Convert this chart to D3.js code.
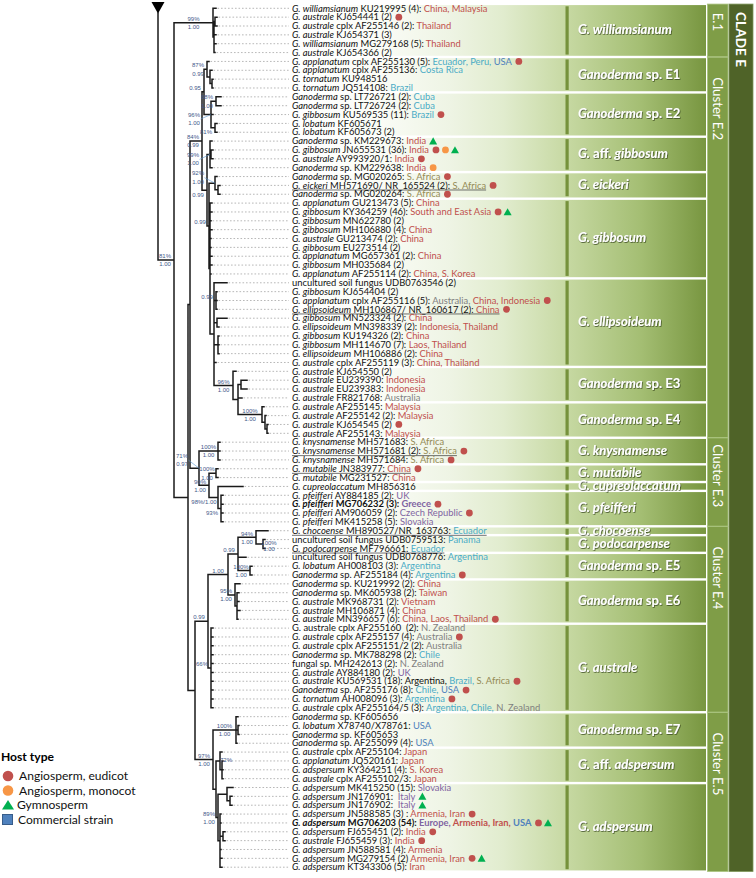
<!DOCTYPE html>
<html><head><meta charset="utf-8">
<script src="https://cdn.jsdelivr.net/npm/d3@7"></script>
<style>body{margin:0;background:#fff}svg{display:block}text{white-space:pre}</style>
</head><body>
<svg id="c" width="756" height="878"></svg>
<script>
// ---------- DATA ----------
// tips: [label markup (*italic*), origin, host codes, parent node, branch depth, flag]
// host codes: e = angiosperm eudicot, m = angiosperm monocot, g = gymnosperm, c = commercial
// flag: u = type sequence (underlined), b = sequence of this study (bold)
const tips = [
 ["*G. williamsianum* KU219995 (4):","China, Malaysia","","E1c",58],
 ["*G. australe* KJ654441 (2)","","e","s2",59],
 ["*G. australe* cplx AF255146 (2):","Thailand","","s2",59],
 ["*G. australe* KJ654371 (3)","","","s",58],
 ["*G. williamsianum* MG279168 (5):","Thailand","","s",58],
 ["*G. australe* KJ654366 (2)","","","s",57],
 ["*G. applanatum* cplx AF255130 (5):","Ecuador, Peru, USA","e","NE1",51],
 ["*G. applanatum* cplx AF255136:","Costa Rica","","S1",54],
 ["*G. tornatum* KU948516","","","S2",55],
 ["*G. tornatum* JQ514108:","Brazil","","S2",55],
 ["*Ganoderma* sp. LT726721 (2):","Cuba","","Ncuba",63],
 ["*Ganoderma* sp. LT726724 (2):","Cuba","","Ncuba",63],
 ["*G. gibbosum* KU569535 (11):","Brazil","e","NsE2",55],
 ["*G. lobatum* KF605671","","","Nlob",59],
 ["*G. lobatum* KF605673 (2)","","","Nlob",59],
 ["*Ganoderma* sp. KM229673:","India","g","Naff",54],
 ["*G. gibbosum* JN655531 (36):","India","emg","naff2",55],
 ["*G. australe* AY993920/1:","India","e","naff2",55],
 ["*Ganoderma* sp. KM229638:","India","m","Naff",54],
 ["*Ganoderma* sp. MG020265:","S. Africa","e","Neick",59],
 ["*G. eickeri* MH571690/ NR_165524 (2):","S. Africa","e","eick2",62,"u"],
 ["*Ganoderma* sp. MG020264:","S. Africa","e","eick2",62],
 ["*G. applanatum* GU213473 (5):","China","","Nd",54],
 ["*G. gibbosum* KY364259 (46):","South and East Asia","eg","Nd",54],
 ["*G. gibbosum* MN622780 (2)","","","Nd",53],
 ["*G. gibbosum* MH106880 (4):","China","","Nd",54],
 ["*G. australe* GU213474 (2):","China","","Nd",53],
 ["*G. gibbosum* EU273514 (2)","","","Nd",53],
 ["*G. applanatum* MG657361 (2):","China","","Nd",54],
 ["*G. gibbosum* MH035684 (2)","","","Nd",54],
 ["*G. applanatum* AF255114 (2):","China, S. Korea","","Nd",53],
 ["uncultured soil fungus UDB0763546 (2)","","","Nell",69],
 ["*G. gibbosum* KJ654404 (2)","","","Nell2",59],
 ["*G. applanatum* cplx AF255116 (5):","Australia, China, Indonesia","e","Nell2",59],
 ["*G. ellipsoideum* MH106867/ NR_160617 (2):","China","e","Nell2",59,"u"],
 ["*G. gibbosum* MN523324 (2):","China","","Nell3",69],
 ["*G. ellipsoideum* MN398339 (2):","Indonesia, Thailand","","Nell3",61],
 ["*G. gibbosum* KU194326 (2):","China","","Nell4",61],
 ["*G. gibbosum* MH114670 (7):","Laos, Thailand","","Nell4",61],
 ["*G. ellipsoideum* MH106886 (2):","China","","Nell4",61],
 ["*G. australe* cplx AF255119 (3):","China, Thailand","","Nell",58],
 ["*G. australe* KJ654550 (2)","","","N96",78],
 ["*G. australe* EU239390:","Indonesia","","Npair3",89],
 ["*G. australe* EU239383:","Indonesia","","Npair3",89],
 ["*G. australe* FR821768:","Australia","","Ne3",84],
 ["*G. australe* AF255145:","Malaysia","","Ne4",106],
 ["*G. australe* AF255142 (2):","Malaysia","","Ne4b",108],
 ["*G. australe* KJ654545 (2)","","e","Ne4c",110],
 ["*G. australe* AF255143:","Malaysia","","Ne4c",110],
 ["*G. knysnamense* MH571683:","S. Africa","","K",62],
 ["*G. knysnamense* MH571681 (2):","S. Africa","e","K",62,"u"],
 ["*G. knysnamense* MH571684:","S. Africa","e","K",62],
 ["*G. mutabile* JN383977:","China","e","M",60,"u"],
 ["*G. mutabile* MG231527:","China","","M",60],
 ["*G. cupreolaccatum* MH856316","","","CP",85],
 ["*G. pfeifferi* AY884185 (2):","UK","","P",65],
 ["*G. pfeifferi* MG706232 (3):","Greece","e","P",65,"b"],
 ["*G. pfeifferi* AM906059 (2):","Czech Republic","e","P",65],
 ["*G. pfeifferi* MK415258 (5):","Slovakia","","P",65],
 ["*G. chocoense* MH890527/NR_163763:","Ecuador","","Ch",110,"u"],
 ["uncultured soil fungus UDB0759513:","Panama","","Npod",107],
 ["*G. podocarpense* MF796661:","Ecuador","","Npod",107,"u"],
 ["uncultured soil fungus UDB0768776:","Argentina","","X",88],
 ["*G. lobatum* AH008103 (3):","Argentina","","NE5c",94],
 ["*Ganoderma* sp. AF255184 (4):","Argentina","e","NE5c",94],
 ["*Ganoderma* sp. KU219992 (2):","China","","E6",82],
 ["*Ganoderma* sp. MK605938 (2):","Taiwan","","Ne6b",81],
 ["*G. australe* MK968731 (2):","Vietnam","","Ne6b",81],
 ["*G. australe* MH106871 (4):","China","","Ne6b",82],
 ["*G. australe* MN396657 (6):","China, Laos, Thailand","e","Ne6b",80],
 ["G. australe cplx AF255160  (2):","N. Zealand","","Naus",55],
 ["*G. australe* cplx AF255157 (4):","Australia","e","Naus",55],
 ["*G. australe* cplx AF255151/2 (2):","Australia","","Naus",55],
 ["*Ganoderma* sp. MK788298 (2):","Chile","","Naus",55],
 ["fungal sp. MH242613 (2):","N. Zealand","","Naus",55],
 ["*G. australe* AY884180 (2):","UK","","Naus",55],
 ["*G. australe* KU569531 (18):","!Argentina, Brazil, S. Africa","e","Naus",55],
 ["*Ganoderma* sp. AF255176 (8):","Chile, USA","e","Naus",55],
 ["*G. tornatum* AH008096 (3):","Argentina","e","Naus",55],
 ["*G. australe* cplx AF255164/5 (3):","Argentina, Chile, N. Zealand","","Naus",55],
 ["*Ganoderma* sp. KF605656","","","E7",80],
 ["*G. lobatum* X78740/X78761:","USA","","Ne7b",81],
 ["*Ganoderma* sp. KF605653","","","Ne7b",81],
 ["*Ganoderma* sp. AF255099 (4):","USA","","E7",79],
 ["*G. australe* cplx AF255104:","Japan","","Naffad",64],
 ["*G. applanatum* JQ520161:","Japan","","Naff2b",65],
 ["*G. adspersum* KY364251 (4):","S. Korea","","Naff2b",65],
 ["*G. australe* cplx AF255102/3:","Japan","","Naff2b",65],
 ["*G. adspersum* MK415250 (15):","Slovakia","","Nads1",75],
 ["*G. adspersum* JN176901: ","Italy","g","Npr",74],
 ["*G. adspersum* JN176902: ","Italy","g","Npr",74],
 ["*G. adspersum* JN588585 (3) :","Armenia, Iran","e","Nads3",63],
 ["*G. adspersum* MG706203 (54):","Europe, Armenia, Iran, USA","eg","Nads3",63,"b"],
 ["*G. adspersum* FJ655451 (2):","India","e","Nads2",67],
 ["*G. australe* FJ655459 (3):","India","e","Nads2",67],
 ["*G. adspersum* JN588581 (4):","Armenia","","Nads3",63],
 ["*G. adspersum* MG279154 (2)","Armenia, Iran","eg","Nads3",64],
 ["*G. adspersum* KT343306 (5):","Iran","","Nads3",64]
];

// internal nodes: [id, parent, depth, bootstrap, posterior]
const nodes = [
 ["root",null,0],
 ["A","root",16,"81%","1.00"],
 ["E1c","A",55,"99%","1.00"],
 ["s","E1c",56],
 ["s2","s",57],
 ["B","A",30],
 ["B1","B",32],
 ["NE2","B1",44,"84%","0.99"],
 ["Na","NE2",46,"","0.95"],
 ["NE1","Na",49,"87%","0.99"],
 ["S1","NE1",52],
 ["S2","S1",54],
 ["NsE2","Na",53,"96%","1.00"],
 ["Ncuba","NsE2",58,"68%","1.00"],
 ["Nlob","NsE2",57,"81%",""],
 ["Nb","NE2",49,"","0.99"],
 ["Naff","Nb",52,"99%","1.00"],
 ["naff2","Naff",53],
 ["Nc","Nb",51,"","0.99"],
 ["Neick","Nc",57,"92%","1.00"],
 ["eick2","Neick",60],
 ["Nd","Nc",52],
 ["Nell","Nd",56],
 ["Nell2","Nell",58,"","0.99"],
 ["Nell3","Nell",59],
 ["Nell4","Nell",60],
 ["N96","Nell",75,"96%","1.00"],
 ["Ne3","N96",80],
 ["Npair3","Ne3",83],
 ["Ne4","Ne3",104,"100%","1.00"],
 ["Ne4b","Ne4",107],
 ["Ne4c","Ne4b",109],
 ["N71","B1",41,"71%","0.97"],
 ["K","N71",60,"100%","1.00"],
 ["MCP","N71",51,"90%","1.00"],
 ["M","MCP",58,"100%","1.00"],
 ["CP","MCP",60,"98%/1.00",""],
 ["P","CP",63,"93%",""],
 ["B3","B",37],
 ["NE4","B3",50,"","0.99"],
 ["Nup","NE4",70,"","1.00"],
 ["X","Nup",80,"","0.99"],
 ["Ch","X",98,"94%","1.00"],
 ["Npod","Ch",105,"100%","1.00"],
 ["NE5c","X",92,"100%","1.00"],
 ["E6","Nup",77,"95%","1.00"],
 ["Ne6b","E6",79],
 ["Naus","NE4",53,"66%",""],
 ["NE5","B3",55,"97%","1.00"],
 ["E7","NE5",78,"100%","1.00"],
 ["Ne7b","E7",80],
 ["Nadsp","NE5",58],
 ["Naffad","Nadsp",62,"72%",""],
 ["Naff2b","Naffad",64],
 ["Nads","Nadsp",60,"89%","1.00"],
 ["Nads1","Nads",69],
 ["Npr","Nads1",72],
 ["Nads3","Nads",62],
 ["Nads2","Nads3",65]
];

// species groups: [name markup, first tip, last tip]
const species = [
 ["*G. williamsianum*",0,5],["*Ganoderma* sp. E1",6,9],["*Ganoderma* sp. E2",10,14],
 ["*G.* aff. *gibbosum*",15,18],["*G. eickeri*",19,21],["*G. gibbosum*",22,30],
 ["*G. ellipsoideum*",31,40],["*Ganoderma* sp. E3",41,44],["*Ganoderma* sp. E4",45,48],
 ["*G. knysnamense*",49,51],["*G. mutabile*",52,53],["*G. cupreolaccatum*",54,54],
 ["*G. pfeifferi*",55,58],["*G. chocoense*",59,59],["*G. podocarpense*",60,61],
 ["*Ganoderma* sp. E5",62,64],["*Ganoderma* sp. E6",65,69],["*G. australe*",70,79],
 ["*Ganoderma* sp. E7",80,83],["*G.* aff. *adspersum*",84,87],["*G. adspersum*",88,97]
];
const clusters = [["E.1",0,5],["Cluster E.2",6,48],["Cluster E.3",49,58],["Cluster E.4",59,79],["Cluster E.5",80,97]];
const clade = ["CLADE E",0,97];

const regionOf = {
 "China":"asia","Malaysia":"asia","Thailand":"asia","India":"asia","South and East Asia":"asia","S. Korea":"asia",
 "Indonesia":"asia","Laos":"asia","Vietnam":"asia","Taiwan":"asia","Japan":"asia","Armenia":"asia","Iran":"asia",
 "Ecuador":"samerica","Peru":"samerica","Costa Rica":"samerica","Brazil":"samerica","Cuba":"samerica","Panama":"samerica",
 "Argentina":"samerica","Chile":"samerica","USA":"namerica","S. Africa":"africa","Australia":"oceania","N. Zealand":"oceania",
 "UK":"europe","Greece":"europe","Czech Republic":"europe","Slovakia":"europe","Italy":"europe","Europe":"europe"
};
const regionColor = {asia:"#c0504d",samerica:"#4bacc6",namerica:"#4f81bd",africa:"#948a54",oceania:"#7f7f7f",europe:"#8064a2"};
const hostTypes = [["e","Angiosperm, eudicot"],["m","Angiosperm, monocot"],["g","Gymnosperm"],["c","Commercial strain"]];
const hostColor = {e:"#c0504d",m:"#f79646",g:"#00b050",c:"#4f81bd"};

// ---------- DRAW ----------
const svg = d3.select("#c");
const FONT = "Lato, 'Open Sans', sans-serif";
const yS = d3.scaleLinear().domain([0, tips.length-1]).range([8.3, 867.2]);
const xS = d3.scaleLinear().domain([0, 100]).range([158, 258]);
const half = (yS(1)-yS(0))/2;
const labelX = 292;

function fitSize(build, target, base=10) {
  const t = build(svg.append("text").attr("font-size",base));
  const w = t.node().getComputedTextLength(); t.remove();
  return base * target / w;
}
function richText(sel, markup) {
  markup.split("*").forEach((p,k) => { if (p) sel.append("tspan").text(p).attr("font-style", k%2 ? "italic" : null); });
  return sel;
}
function tipText(sel, i) {
  const [markup, origin] = tips[i];
  richText(sel, markup);
  if (origin) {
    sel.append("tspan").text(" ");
    const toks = origin.split(", ");
    toks.forEach((tok,k) => {
      const plain = tok.startsWith("!"); const nm = plain ? tok.slice(1) : tok;
      sel.append("tspan").attr("fill", plain ? "#111" : regionColor[regionOf[nm]]).text(nm + (k<toks.length-1 ? ", " : ""));
    });
  }
  return sel;
}

const defs = svg.append("defs");
const grad = defs.append("linearGradient").attr("id","bg").attr("gradientUnits","userSpaceOnUse")
  .attr("x1",300).attr("x2",706).attr("y1",0).attr("y2",0);
[[0,"#ffffff"],[0.2,"#fafcf6"],[0.37,"#eef4e4"],[0.5,"#e1ecce"],[0.655,"#c7d9a3"],[0.84,"#a4be73"],[1,"#789640"]]
  .forEach(([o,c]) => grad.append("stop").attr("offset",o).attr("stop-color",c));
const sh = defs.append("filter").attr("id","sh").attr("x","-10%").attr("y","-30%").attr("width","130%").attr("height","170%");
sh.append("feDropShadow").attr("dx",0.7).attr("dy",0.8).attr("stdDeviation",0.6).attr("flood-color","#2f3d12").attr("flood-opacity",0.85);

// species bands
const bandTop = i => yS(i) - half + 1.2, bandBot = i => yS(i) + half - 1.2;
const gBands = svg.append("g");
species.forEach(([name,a,b]) => {
  gBands.append("rect").attr("x",290).attr("width",416).attr("y",bandTop(a)).attr("height",bandBot(b)-bandTop(a)).attr("fill","url(#bg)");
  gBands.append("rect").attr("x",565.5).attr("width",3.2).attr("y",yS(a)-2).attr("height",Math.max(6,yS(b)-yS(a)+4)).attr("fill","#76923c");
});
const spSize = fitSize(t => richText(t.attr("font-family",FONT).attr("font-weight","bold"), species[0][0]), 94);
species.forEach(([name,a,b]) => {
  const t = gBands.append("text").attr("x",578).attr("y",(yS(a)+yS(b))/2+3.8)
    .attr("font-family",FONT).attr("font-size",spSize).attr("font-weight","bold").attr("fill","#fff").attr("filter","url(#sh)");
  richText(t, name);
});

// cluster column
const gCl = svg.append("g");
const clSize = fitSize(t => t.attr("font-family",FONT).text(clusters[1][0]), 63);
clusters.forEach(([name,a,b]) => {
  const top = bandTop(a)-1, bot = bandBot(b)+1, h = bot-top;
  gCl.append("rect").attr("x",707.5).attr("width",20.5).attr("y",top).attr("height",h).attr("fill","#7f9d47").attr("stroke","#a9c27c").attr("stroke-width",0.8);
  const t = gCl.append("text").attr("font-family",FONT).attr("font-size",clSize).attr("fill","#fff").text(name);
  const len = t.node().getComputedTextLength();
  const off = Math.min(20, Math.max(2,(h-len)/4));
  t.attr("transform",`translate(717.7,${top+off}) rotate(90)`).attr("dy","0.36em");
});
{
  const top = bandTop(clade[1])-1, bot = bandBot(clade[2])+1;
  const cs = fitSize(t => t.attr("font-family",FONT).attr("font-weight","bold").text(clade[0]), 55);
  gCl.append("rect").attr("x",729).attr("width",24).attr("y",top).attr("height",bot-top).attr("fill","#4f6328").attr("stroke","#7d9458").attr("stroke-width",0.8);
  gCl.append("text").attr("font-family",FONT).attr("font-size",cs).attr("fill","#fff").attr("font-weight","bold")
    .attr("transform",`translate(741,${top+8}) rotate(90)`).attr("dy","0.36em").text(clade[0]);
}

// tree
const table = [
  ...nodes.map(([id,parent,depth,bs,pp]) => ({id,parent,depth,bs:bs||"",pp:pp||""})),
  ...tips.map((t,i) => ({id:"t"+i,parent:t[3],depth:t[4],tip:i}))
];
const root = d3.stratify().id(d=>d.id).parentId(d=>d.parent)(table);
root.eachAfter(n => {
  n.px = xS(n.data.depth);
  if (!n.children) n.py = yS(n.data.tip);
  else { const ys = n.children.map(c=>c.py); n.py = (d3.min(ys)+d3.max(ys))/2; n.y0 = d3.min(ys); n.y1 = d3.max(ys); }
});
const gTree = svg.append("g");
gTree.selectAll("line.lead").data(root.leaves()).join("line")
  .attr("x1",d=>d.px+1.5).attr("x2",labelX-3).attr("y1",d=>d.py).attr("y2",d=>d.py)
  .attr("stroke","#9a9a9a").attr("stroke-width",0.7).attr("stroke-dasharray","1.6,1.9");
const path = d3.path();
path.moveTo(root.px, 13); path.lineTo(root.px, root.py);
root.descendants().forEach(n => {
  if (n.parent) { path.moveTo(n.parent.px, n.py); path.lineTo(n.px, n.py); }
  if (n.children && n.children.length>1) { path.moveTo(n.px, n.y0); path.lineTo(n.px, n.y1); }
});
gTree.append("path").attr("d",path.toString()).attr("fill","none").attr("stroke","#1a1a1a").attr("stroke-width",1.5).attr("stroke-linecap","square");
gTree.append("path").attr("d",d3.line()([[xS(0)-6.5,2],[xS(0)+6.5,2],[xS(0),13.5]])+"Z").attr("fill","#000");

// support values (placement rules)
const callout = {NsE2:4, Naff:4.5, Neick:-6, N71:-8.5};
const below = new Set(["Nlob","CP","P","Nb"]);
const right = new Set(["Npod","Naffad"]);
const gSup = svg.append("g").attr("font-family","'Liberation Sans Narrow','Liberation Sans', Arial, sans-serif").attr("font-size",6).attr("fill","#43598a").attr("text-anchor","middle");
root.descendants().filter(n=>n.parent && (n.data.bs||n.data.pp)).forEach(n => {
  const id = n.data.id, both = n.data.bs && n.data.pp;
  let cx = Math.min((n.parent.px+n.px)/2, n.px-9), yb = n.py-1.8, yp = n.py+6.4;
  if (id in callout) {
    cx = n.px - 17; yb += callout[id]; yp += callout[id];
    gSup.append("line").attr("x1",cx+6.5).attr("y1",n.py+callout[id]+0.5).attr("x2",n.px).attr("y2",n.py)
      .attr("stroke","#5b9bd5").attr("stroke-width",0.6);
  } else if (right.has(id)) { cx = n.px + 6; yb = n.py + 1; yp = n.py + 7.3; }
  else if (!both) { yb = yp = below.has(id) ? n.py + 6.4 : n.py - 1.8; }
  if (id==="CP") cx -= 5;
  if (n.data.bs) gSup.append("text").attr("x",cx).attr("y",yb).text(n.data.bs);
  if (n.data.pp) gSup.append("text").attr("x",cx).attr("y",yp).text(n.data.pp);
});

// tip labels (font size fitted to sample label widths of the figure)
const tipSize = d3.mean([[0,197.7],[1,99],[6,221.7],[23,197.7]], ([i,w]) => fitSize(t => tipText(t.attr("font-family",FONT), i), w));
const gLab = svg.append("g").attr("font-family",FONT).attr("font-size",tipSize);
function marker(g, code, cx, cy) {
  if (code==="g") g.append("path").attr("d",`M${cx-4},${cy+3.3}L${cx+4},${cy+3.3}L${cx},${cy-3.8}Z`).attr("fill",hostColor.g);
  else if (code==="c") g.append("rect").attr("x",cx-3.5).attr("y",cy-3.5).attr("width",7).attr("height",7).attr("fill",hostColor.c).attr("stroke","#385d8a").attr("stroke-width",0.7);
  else g.append("circle").attr("cx",cx).attr("cy",cy).attr("r",3.4).attr("fill",hostColor[code]);
}
tips.forEach((t,i) => {
  const hosts = t[2], flag = t[5];
  const ty = yS(i);
  const txt = tipText(gLab.append("text").attr("x",labelX).attr("y",ty+3.2).attr("fill","#111")
    .attr("font-weight", flag==="b" ? "bold" : null), i);
  const len = txt.node().getComputedTextLength();
  if (flag==="u") gLab.append("line").attr("x1",labelX).attr("x2",labelX+len).attr("y1",ty+4.6).attr("y2",ty+4.6).attr("stroke","#333").attr("stroke-width",0.7);
  [...hosts].forEach((c,k) => marker(gLab, c, labelX+len+7+k*9.5, ty));
});

// legend
const gLeg = svg.append("g").attr("font-family",FONT);
const lgSize = fitSize(t => t.attr("font-family",FONT).text(hostTypes[0][1]), 109);
gLeg.append("text").attr("x",1).attr("y",761).attr("font-size",lgSize).attr("font-weight","bold").text("Host type");
hostTypes.forEach(([c,lab],k) => {
  const cy = 776 + k*14.5;
  if (c==="g") gLeg.append("path").attr("d",`M${2},${cy+4.5}L${14},${cy+4.5}L${8},${cy-5}Z`).attr("fill",hostColor.g);
  else if (c==="c") gLeg.append("rect").attr("x",2.5).attr("y",cy-5).attr("width",10).attr("height",10).attr("fill",hostColor.c).attr("stroke","#385d8a").attr("stroke-width",1);
  else gLeg.append("circle").attr("cx",8).attr("cy",cy).attr("r",5.3).attr("fill",hostColor[c]);
  gLeg.append("text").attr("x", c==="g"?17:(c==="c"?18:19)).attr("y",cy+4).attr("font-size",lgSize).attr("fill","#111").text(lab);
});
</script>
</body></html>
